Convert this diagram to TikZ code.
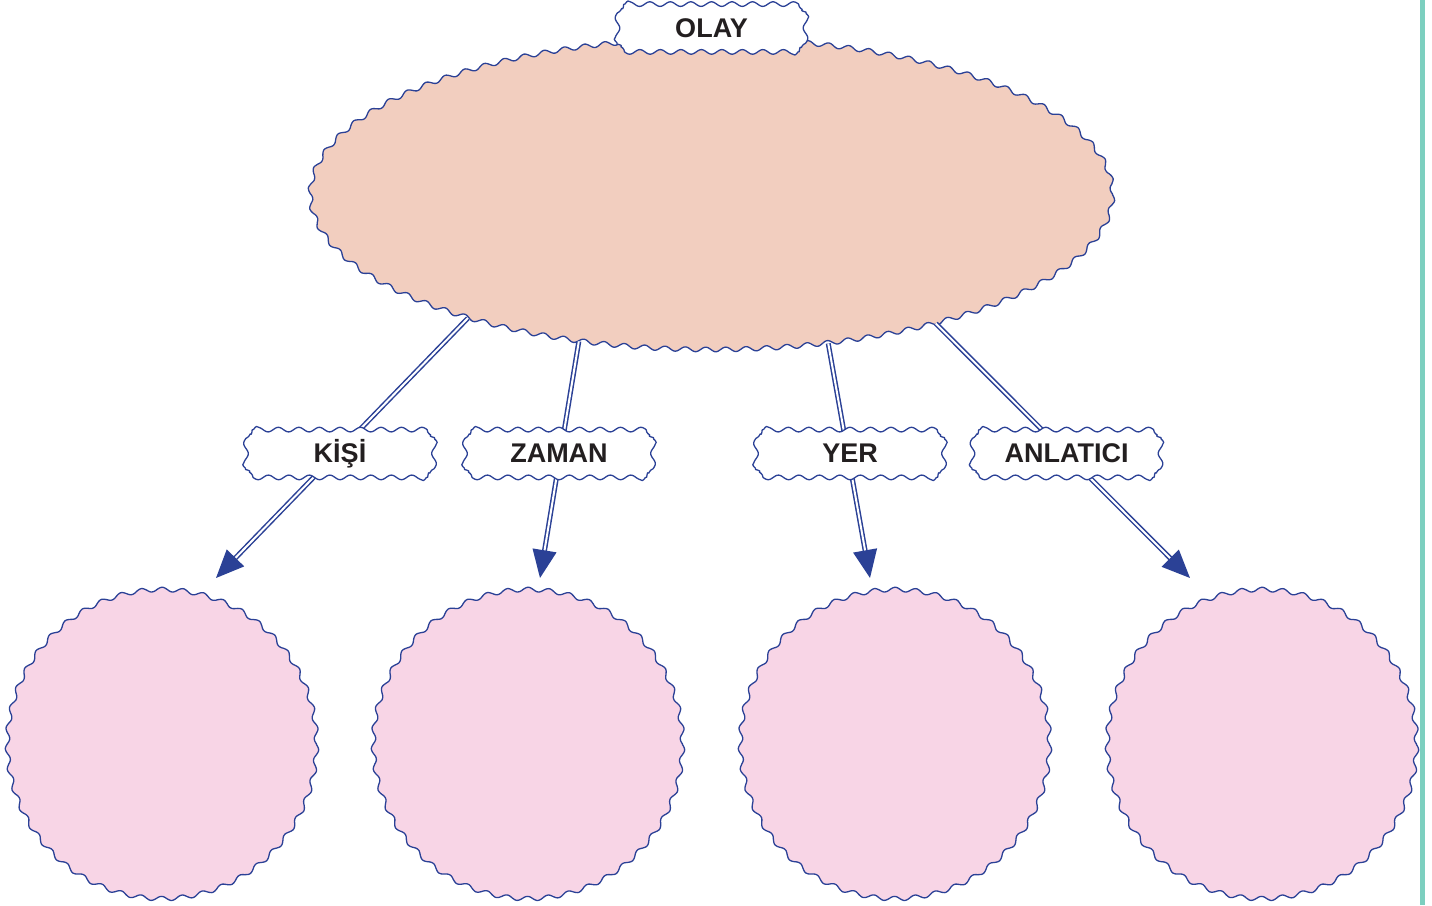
\documentclass[tikz,border=0pt]{standalone}
\usepackage{fontspec}
\setmainfont{Liberation Sans}
\usetikzlibrary{shapes.geometric,decorations,arrows.meta}
\definecolor{wblue}{HTML}{2B4196}
\definecolor{peach}{HTML}{F2CEBF}
\definecolor{pinkc}{HTML}{F8D5E6}
\definecolor{tealbar}{HTML}{7CCFBF}
\definecolor{txt}{HTML}{231F20}
\newcommand{\wavept}[2]{\pgfpathlineto{\pgfqpoint{#1\pgfdecorationsegmentlength}{#2\pgfdecorationsegmentamplitude}}}
\pgfdeclaredecoration{sinewave}{start}{
  \state{start}[width=+0.25\pgfdecorationsegmentlength, next state=q2,
                switch if less than=+0.25\pgfdecorationsegmentlength to final]{
    \pgfpathmoveto{\pgfpointorigin}
    \wavept{0.0625}{0.3827}\wavept{0.125}{0.7071}\wavept{0.1875}{0.9239}\wavept{0.25}{1}}
  \state{q1}[width=+0.25\pgfdecorationsegmentlength, next state=q2,
             switch if less than=+0.25\pgfdecorationsegmentlength to final]{
    \wavept{0.0625}{0.3827}\wavept{0.125}{0.7071}\wavept{0.1875}{0.9239}\wavept{0.25}{1}}
  \state{q2}[width=+0.25\pgfdecorationsegmentlength, next state=q3,
             switch if less than=+0.25\pgfdecorationsegmentlength to final]{
    \wavept{0.0625}{0.9239}\wavept{0.125}{0.7071}\wavept{0.1875}{0.3827}\wavept{0.25}{0}}
  \state{q3}[width=+0.25\pgfdecorationsegmentlength, next state=q4,
             switch if less than=+0.25\pgfdecorationsegmentlength to final]{
    \wavept{0.0625}{-0.3827}\wavept{0.125}{-0.7071}\wavept{0.1875}{-0.9239}\wavept{0.25}{-1}}
  \state{q4}[width=+0.25\pgfdecorationsegmentlength, next state=q1,
             switch if less than=+0.25\pgfdecorationsegmentlength to final]{
    \wavept{0.0625}{-0.9239}\wavept{0.125}{-0.7071}\wavept{0.1875}{-0.3827}\wavept{0.25}{0}}
  \state{final}{\pgfpathlineto{\pgfpointdecoratedpathlast}}
}
\newcommand{\wavytag}[4]{%
  \begin{scope}[shift={(#2,#3)}, y=1pt]
    \path[tagline] (-5.12,23.9) -- (82,23.9) arc[start angle=90, end angle=0, radius=12]
      -- (94,-11.9) arc[start angle=0, end angle=-90, radius=12]
      -- (-82,-23.9) arc[start angle=-90, end angle=-180, radius=12]
      -- (-94,11.9) arc[start angle=180, end angle=90, radius=12] -- cycle;
  \end{scope}
  \node[tagtext] (#1) at (#2,#3) {#4};}
\begin{document}
\begin{tikzpicture}[x=1pt,y=-1pt, line join=round,
  bigoval/.style={ellipse, draw=wblue, line width=1.3pt, fill=peach, minimum width=802pt, minimum height=311pt, inner sep=0pt,
    decorate, decoration={sinewave, segment length=20.37pt, amplitude=2.3pt}},
  bubble/.style={circle, draw=wblue, line width=1.3pt, fill=pinkc, minimum size=309pt, inner sep=0pt,
    decorate, decoration={sinewave, segment length=20.64pt, amplitude=2.2pt}},
  tagline/.style={draw=wblue, line width=1.3pt, fill=white,
    decorate, decoration={sinewave, segment length=20.49pt, amplitude=2.3pt}},
  tagtext/.style={inner sep=0pt, font=\bfseries\fontsize{27}{31}\selectfont, text=txt},
  conn/.style={draw=wblue, line width=1.5pt, double=white, double distance=2pt, -{Triangle[length=28pt,width=24pt]}}
]
\useasboundingbox (0,0) rectangle (1432,905);
\fill[tealbar] (1420,0) rectangle (1425,905);

\node[bigoval] (olay) at (711.5,194) {};
\wavytag{olaytag}{711.5}{28}{OLAY}

\node[bubble] (c1) at (162,744) {};
\node[bubble] (c2) at (528,744) {};
\node[bubble] (c3) at (895,744) {};
\node[bubble] (c4) at (1262,744) {};

\coordinate (tipK) at (216,578);
\coordinate (tipZ) at (540,578);
\coordinate (tipY) at (870,578);
\coordinate (tipA) at (1190,578);

\draw[conn] (olay.207.6) -- (tipK);
\draw[conn] (olay.228.1) -- (tipZ);
\draw[conn] (olay.308.3) -- (tipY);
\draw[conn] (olay.330.3) -- (tipA);

\wavytag{kisi}{340}{453.5}{KİŞİ}
\wavytag{zaman}{559}{453.5}{ZAMAN}
\wavytag{yer}{850}{453.5}{YER}
\wavytag{anlatici}{1066.5}{453.5}{ANLATICI}
\end{tikzpicture}
\end{document}
